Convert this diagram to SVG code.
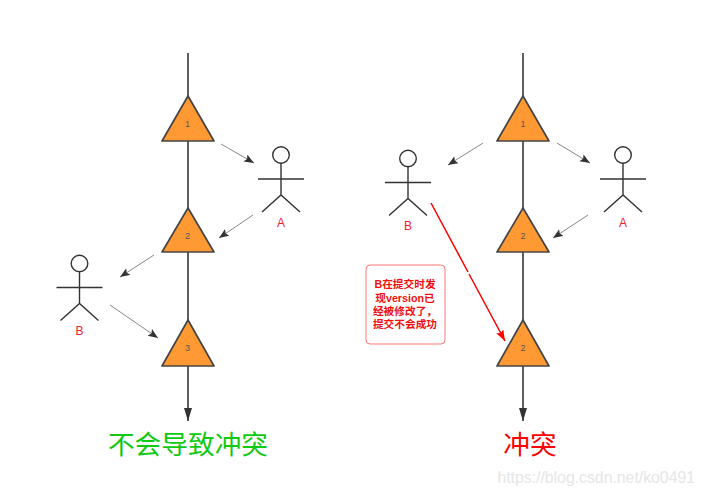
<svg xmlns="http://www.w3.org/2000/svg" width="701" height="495" viewBox="0 0 701 495">
<style>
.life{stroke:#444;stroke-width:1.7;fill:none}
.tri{fill:#f93;stroke:#444;stroke-width:1.7;stroke-linejoin:round}
.num{font:9px "Liberation Sans","DejaVu Sans",sans-serif;fill:#555;text-anchor:middle}
.fig{fill:none;stroke:#333;stroke-width:1.4}
.fig circle{fill:#fff}
.lab{font:12px "Liberation Sans",sans-serif;fill:#f02030;text-anchor:middle}
.msg{stroke:#888;stroke-width:1;fill:none;marker-end:url(#ah)}
.note{font:bold 10.7px "Liberation Sans","Noto Sans CJK SC",sans-serif;fill:#f01010;text-anchor:middle}
.title{font:26.700px "Noto Sans CJK SC",sans-serif;text-anchor:middle}
</style>
<defs>
<marker id="ah" markerUnits="userSpaceOnUse" markerWidth="12" markerHeight="10" refX="10" refY="4" orient="auto"><path d="M0 0L10 4L0 8L2 4Z" fill="#333"/></marker>
<marker id="ahl" markerUnits="userSpaceOnUse" markerWidth="12" markerHeight="12" refX="13" refY="4" orient="auto"><path d="M0 0L13 4L0 8Z" fill="#333"/></marker>
<marker id="ahr" markerUnits="userSpaceOnUse" markerWidth="13" markerHeight="10" refX="11" refY="4" orient="auto"><path d="M0 0L11 4L0 8L2 4Z" fill="#f00"/></marker>
<g id="stick"><circle cx="0" cy="-24" r="8.300"/><path d="M0-16V16M-23 0H23M-19 33L0 16L19 33"/></g>
</defs>
<g id="connectors">
<path class="life" d="M188 53V96M188 141V208M188 252V320M188 366V421" marker-end="url(#ahl)"/>
<path class="life" d="M523 53V96M523 141V208M523 252V320M523 366V421" marker-end="url(#ahl)"/>
<path class="msg" d="M221 144L254 163"/>
<path class="msg" d="M253 215L219 238"/>
<path class="msg" d="M154 255L120 277"/>
<path class="msg" d="M110 305L158 338"/>
<path class="msg" d="M483 143L448 165"/>
<path class="msg" d="M557 143L590 163"/>
<path class="msg" d="M588 215L553 238"/>
<path d="M431 203L468 272M469 274L505 341" fill="none" stroke="#f00" stroke-width="1.500" marker-end="url(#ahr)"/>
</g>
<g id="lt1"><path class="tri" d="M188 96L214 141H162Z"/><text class="num" x="187.500" y="127">1</text></g>
<g id="lt2"><path class="tri" d="M188 208L214 252H162Z"/><text class="num" x="187.500" y="239">2</text></g>
<g id="lt3"><path class="tri" d="M188 320L214 366H162Z"/><text class="num" x="187.500" y="351">3</text></g>
<g id="rt1"><path class="tri" d="M523 96L549 141H497Z"/><text class="num" x="523" y="127">1</text></g>
<g id="rt2"><path class="tri" d="M523 208L549 252H497Z"/><text class="num" x="523" y="239">2</text></g>
<g id="rt3"><path class="tri" d="M523 320L549 366H497Z"/><text class="num" x="523" y="351">2</text></g>
<g id="la"><use href="#stick" class="fig" x="281" y="179"/><text class="lab" x="281" y="227">A</text></g>
<g id="lb"><use href="#stick" class="fig" x="79.500" y="287.500"/><text class="lab" x="79.500" y="335">B</text></g>
<g id="ra"><use href="#stick" class="fig" x="623" y="179"/><text class="lab" x="623" y="227">A</text></g>
<g id="rb"><use href="#stick" class="fig" x="408" y="182.500"/><text class="lab" x="408" y="230">B</text></g>
<g id="note"><rect x="366" y="265" width="79" height="79" rx="4" fill="#fff" stroke="#f77"/>
<text class="note" x="405" y="288">B在提交时发</text><text class="note" x="405" y="301.500">现version已</text><text class="note" x="405" y="315">经被修改了，</text><text class="note" x="405" y="328">提交不会成功</text></g>
<text class="title" x="188" y="454" fill="#11c911">不会导致冲突</text>
<text class="title" x="530" y="454" fill="#f00">冲突</text>
<text x="695" y="483" text-anchor="end" style="font:15.800px 'Liberation Sans',sans-serif" fill="#e6e6e6">https://blog.csdn.net/ko0491</text>
</svg>
